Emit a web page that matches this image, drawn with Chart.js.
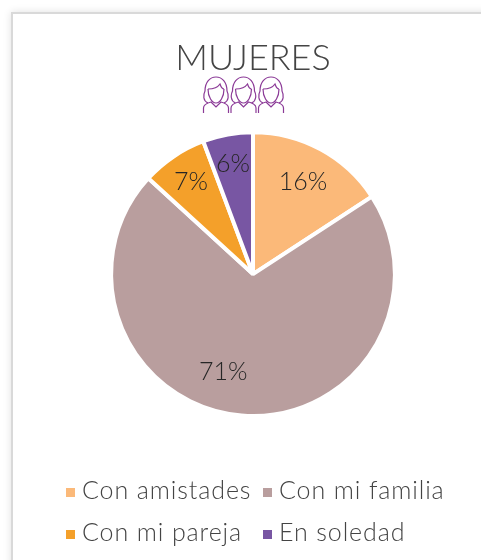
<!DOCTYPE html>
<html><head><meta charset="utf-8">
<script src="https://cdn.jsdelivr.net/npm/chart.js@4"></script>
<style>
html,body{margin:0;padding:0;background:#fff;width:481px;height:560px;overflow:hidden}
#card{position:absolute;left:11px;top:12px;width:480px;height:560px;border:2px solid #d9d9d9;box-shadow:0 0 8px rgba(0,0,0,.12);background:#fff}
#c{position:absolute;left:0;top:0}
#icons{position:absolute;left:0;top:0}
#legend{position:absolute;left:66px;top:468px;display:grid;grid-template-columns:197px auto;font:300 25px Lato,sans-serif;letter-spacing:.9px;color:#444;line-height:42px;white-space:nowrap}
#legend span.m{display:inline-block;width:9px;height:9px;margin-right:7px;vertical-align:2px}
</style></head><body>
<div id="card"></div>
<div style="position:absolute;left:0;top:0;width:481px;height:560px"><canvas id="c" width="481" height="560"></canvas></div>
<svg id="icons" width="481" height="560" fill="none" stroke="#8b3a97" stroke-width="1.2">
<defs><g id="w">
<path d="M-8 9C-13 7-13 1-11 -3C-11 -12-6 -17 0 -17C6 -17 11 -12 11 -3C13 1 13 7 8 9"/>
<path d="M-8 -5C-3 -5 2 -7 4 -10C5 -7 7 -5 8 -5"/>
<path d="M-8 -5C-8 3-4 9 0 9C4 9 8 3 8 -5"/>
<path d="M-12.500 19V14C-12.500 11-9 9-5 8L0 13L5 8C9 9 12.500 11 12.500 14V19"/>
</g></defs>
<use href="#w" x="216" y="94"/><use href="#w" x="243.500" y="94"/><use href="#w" x="271" y="94"/>
</svg>
<div id="legend"></div>
<script>
const categories=["Con amistades","Con mi familia","Con mi pareja","En soledad"];
const values=[15.8,71,7.5,5.7];
const labelsPct=["16%","71%","7%","6%"];
const colors=["#FBB979","#B99E9E","#F4A02A","#7856A3"];
const titleText="MUJERES";

const labelRatio=[0.74,0.75,0.78,0.79];
const pieLabels={id:"pieLabels",afterDatasetsDraw(chart){
  const ctx=chart.ctx,arcs=chart.getDatasetMeta(0).data;
  ctx.save();ctx.font="300 25px Lato, sans-serif";ctx.fillStyle="#262626";ctx.textAlign="center";ctx.textBaseline="middle";
  arcs.forEach((a,i)=>{
    const mid=(a.startAngle+a.endAngle)/2,r=a.outerRadius*labelRatio[i];
    let x=a.x+Math.cos(mid)*r,y=a.y+Math.sin(mid)*r;
    if(i===1){x-=21;y-=8;}
    ctx.fillText(labelsPct[i],x,y);
  });
  ctx.restore();
}};
new Chart(document.getElementById("c"),{type:"pie",
 data:{labels:categories,datasets:[{data:values,backgroundColor:colors,borderColor:"#fff",borderWidth:4}]},
 options:{responsive:false,animation:false,
  layout:{padding:{top:37,left:25,right:0,bottom:142}},
  plugins:{legend:{display:false},tooltip:{enabled:false},
   title:{display:true,text:titleText,color:"#444",font:{family:"Lato, sans-serif",size:36,weight:"300"},padding:{top:0,bottom:50}}}},
 plugins:[pieLabels]});
const lg=document.getElementById("legend");
categories.forEach((n,i)=>{const d=document.createElement("div");
 const m=document.createElement("span");m.className="m";m.style.background=colors[i];
 d.appendChild(m);d.appendChild(document.createTextNode(n));lg.appendChild(d);});
</script>
</body></html>
